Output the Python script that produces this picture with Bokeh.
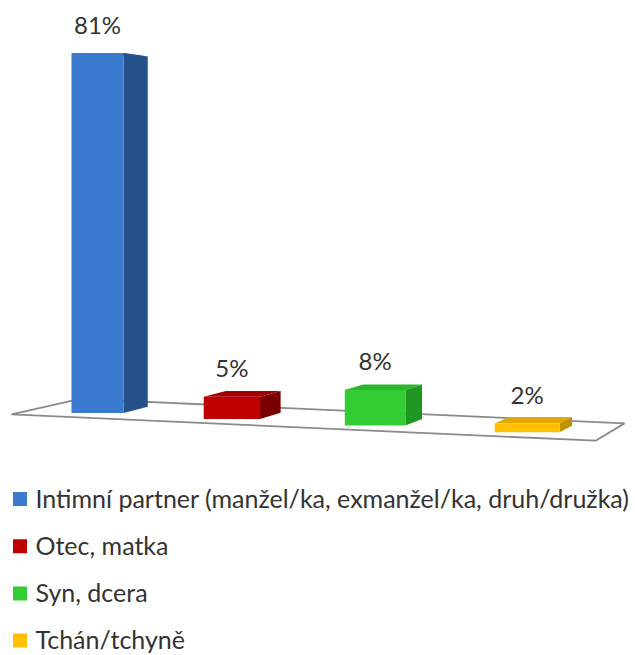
from bokeh.plotting import figure
from bokeh.models import Range1d, ColumnDataSource
from bokeh.core.properties import value
from bokeh.embed import file_html
from bokeh.resources import INLINE

# ---- data ----
categories = ["Intimní partner (manžel/ka, exmanžel/ka, druh/družka)",
              "Otec, matka", "Syn, dcera", "Tchán/tchyně"]
values = [81, 5, 8, 2]
labels = ["81%", "5%", "8%", "2%"]

# ---- styles ----
front_colors = ["#3A7BCF", "#C00000", "#33CC33", "#FFC000"]
side_colors = ["#25518A", "#7A0000", "#229622", "#BF9000"]
top_colors = ["#2F66B0", "#A20000", "#2DB52D", "#E0A800"]
FONT = "Lato"
TEXT_COLOR = "#333333"

# ---- layout (picture pixels) ----
W, H = 635, 655
MARGIN = 0
K = 4.444            # pixels per percentage point
BASE0 = 412.5        # floor row under first bar
X0, STEP, CURVE = 97.0, 130.0, 4.4
WIDTH0, WIDTH_GROW = 52.0, 4.3
FLOOR_SLOPE = 0.045
VX, VY = 1021.0, 185.0   # vanishing point of the depth lines
C_BAR, C_FLOOR = 0.027, 0.068
Y_TOP = (BASE0 - MARGIN) / K
TEXT_FIX = -10       # svg alphabetic baseline correction


def to_x(px):
    return px - MARGIN


def to_y(py):
    return Y_TOP - (py - MARGIN) / K


def to_py(y):
    return MARGIN + (Y_TOP - y) * K


def back(px, py, c):
    return px + (VX - px) * c, py + (VY - py) * c


def base_row(px):
    return BASE0 + (px - X0) * FLOOR_SLOPE


p = figure(width=W, height=H, output_backend="svg", toolbar_location=None,
           x_range=Range1d(0, W), y_range=Range1d(to_y(MARGIN + H), Y_TOP),
           min_border=0, outline_line_color=None)
p.axis.visible = False
p.xgrid.visible = False
p.ygrid.visible = False
p.background_fill_color = "white"
p.border_fill_color = "white"

n = len(values)
cx = [X0 + STEP * i + CURVE * i * i for i in range(n)]
wd = [WIDTH0 + WIDTH_GROW * i for i in range(n)]

# floor
fl_x = cx[0] - 86.0
fr_x = cx[-1] + 68.5
fl = (fl_x, base_row(fl_x) + 5.3)
fr = (fr_x, base_row(fr_x) + 5.3)
bl = back(*fl, C_FLOOR)
br = back(*fr, C_FLOOR)
floor = [fl, bl, br, fr]
p.patch([to_x(a) for a, b in floor], [to_y(b) for a, b in floor],
        fill_color="white", line_color="#8A8A8A", line_width=1.8)

# bars
bases = [to_y(base_row(c)) for c in cx]
tops = [b + v for b, v in zip(bases, values)]
side_xs, side_ys, top_xs, top_ys = [], [], [], []
for i in range(n):
    L = cx[i] - wd[i] / 2
    R = cx[i] + wd[i] / 2
    tp = to_py(tops[i])
    bp = base_row(cx[i])
    side = [(R, tp), back(R, tp, C_BAR), back(R, bp, C_BAR), (R, bp)]
    topf = [(L, tp), (R, tp), back(R, tp, C_BAR), back(L, tp, C_BAR)]
    side_xs.append([to_x(a) for a, b in side])
    side_ys.append([to_y(b) for a, b in side])
    top_xs.append([to_x(a) for a, b in topf])
    top_ys.append([to_y(b) for a, b in topf])

p.patches(top_xs, top_ys, fill_color=top_colors, line_color=None)
p.patches(side_xs, side_ys, fill_color=side_colors, line_color=None)
src = ColumnDataSource(dict(x=[to_x(c) for c in cx], w=wd, bottom=bases,
                            top=tops, color=front_colors, label=labels))
p.vbar(x="x", width="w", bottom="bottom", top="top", fill_color="color",
       line_color=None, source=src)

# value labels
p.text(x="x", y="top", text="label", source=src, y_offset=-19 + TEXT_FIX,
       text_align="center", text_baseline="alphabetic",
       text_font=value(FONT), text_font_size="24px", text_color=TEXT_COLOR)

# legend
ROW0, ROW_STEP = 498.5, 47.2
ly = [to_y(ROW0 + ROW_STEP * i) for i in range(n)]
p.scatter(x=[to_x(19.5)] * n, y=ly, marker="square", size=14,
          fill_color=front_colors, line_color=None)
p.text(x=[to_x(35)] * n, y=ly, text=categories, y_offset=8.5 + TEXT_FIX,
       text_align="left", text_baseline="alphabetic",
       text_font=value(FONT), text_font_size="25px", text_color=TEXT_COLOR)

open("out.html", "w").write(file_html(p, INLINE))
